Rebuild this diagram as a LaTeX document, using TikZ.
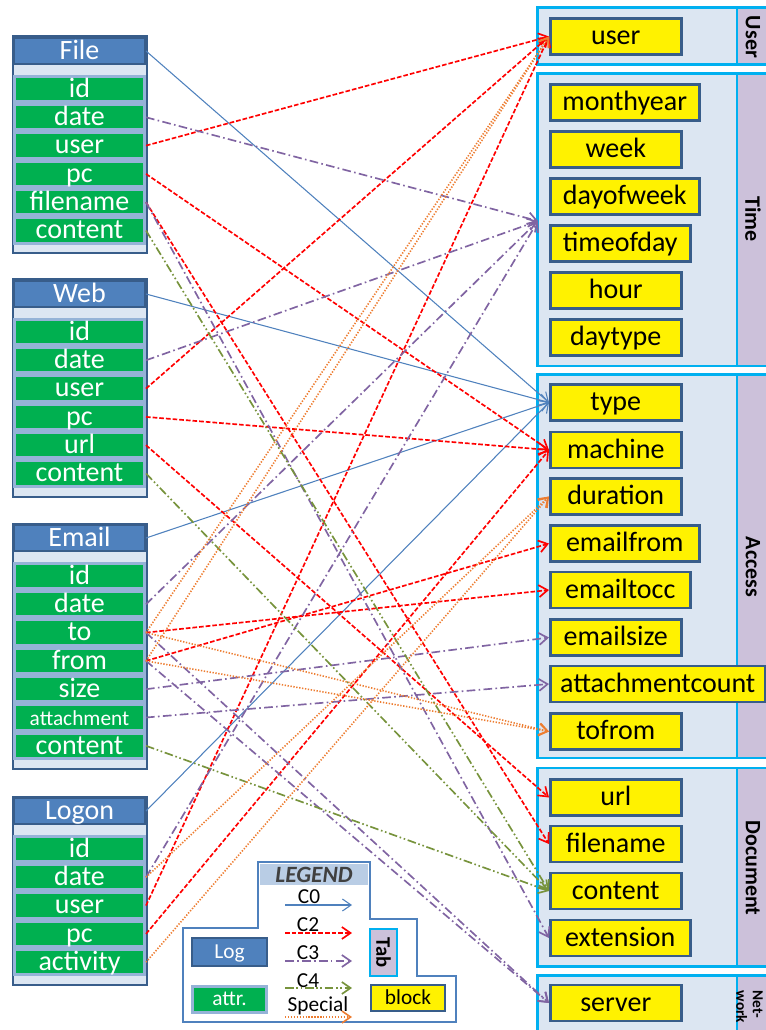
\documentclass[tikz,border=0pt]{standalone}
\usepackage{fontspec}
\setmainfont{Carlito}
\usetikzlibrary{arrows.meta}

\definecolor{logblue}{RGB}{79,129,189}
\definecolor{logedge}{RGB}{56,93,138}
\definecolor{attrgreen}{RGB}{0,176,80}
\definecolor{attredge}{RGB}{149,179,215}
\definecolor{paleblue}{RGB}{220,230,242}
\definecolor{tabcyan}{RGB}{0,176,240}
\definecolor{tablilac}{RGB}{204,193,218}
\definecolor{cpurple}{RGB}{128,100,162}
\definecolor{cgreen}{RGB}{119,147,60}
\definecolor{corange}{RGB}{237,125,49}
\definecolor{legendhead}{RGB}{185,205,229}
\definecolor{legendtext}{RGB}{64,64,64}

\tikzset{
  bigtext/.style={font=\fontsize{21}{23}\selectfont, text height=14.5pt, text depth=2pt},
  keytext/.style={font=\fontsize{16}{18}\selectfont, text height=11pt, text depth=1.5pt},
  tableframe/.style={draw=logedge, line width=1.5pt, fill=paleblue},
  loghead/.style={draw=logedge, line width=1.5pt, fill=logblue, text=white, inner sep=0pt, bigtext, minimum width=98.25pt, minimum height=19.5pt},
  attrbox/.style={draw=attredge, line width=2.25pt, fill=attrgreen, text=white, inner sep=0pt, bigtext, minimum width=97.5pt, minimum height=19pt},
  panelbox/.style={draw=tabcyan, line width=2pt, fill=paleblue},
  tabstrip/.style={draw=tabcyan, line width=2pt, fill=tablilac},
  tablabel/.style={rotate=-90, inner sep=0pt, font=\bfseries\fontsize{16.5}{18}\selectfont},
  blockbox/.style={draw=logedge, line width=1.9pt, fill=yellow, inner sep=0pt, bigtext, minimum width=98.25pt, minimum height=27pt, anchor=west},
  barbtip/.style={-{Straight Barb[length=6.5pt,width=9pt]}},
  c0/.style={draw=logblue, line width=0.8pt, barbtip},
  c2/.style={draw=red, line width=1.25pt, dash pattern=on 3.5pt off 1.5pt, barbtip},
  c3/.style={draw=cpurple, line width=1.25pt, dash pattern=on 6.5pt off 2.5pt on 1.2pt off 2.5pt, barbtip},
  c4/.style={draw=cgreen, line width=1.25pt, dash pattern=on 6.5pt off 2pt on 1.2pt off 2pt on 1.2pt off 2pt, barbtip},
  cspec/.style={draw=corange, line width=1.2pt, dash pattern=on 1pt off 1.2pt, barbtip},
}

\begin{document}
\begin{tikzpicture}[x=0.75pt,y=0.75pt,yscale=-1,xscale=1]
	\useasboundingbox (0,0) rectangle (766,1030);
	\clip (0,0) rectangle (766,1030);

	% log tables
	\draw[tableframe] (12.5,36.5) rectangle (146.5,253.5);
	\node[loghead] (fhead) at (79.5,51) {File};
	\node[attrbox] (fid) at (79.5,89) {id};
	\node[attrbox] (fdate) at (79.5,117.3) {date};
	\node[attrbox] (fuser) at (79.5,145.6) {user};
	\node[attrbox] (fpc) at (79.5,173.9) {pc};
	\node[attrbox] (ffilename) at (79.5,202.2) {filename};
	\node[attrbox] (fcontent) at (79.5,230.5) {content};

	\draw[tableframe] (12.5,279.5) rectangle (146.5,496.5);
	\node[loghead] (whead) at (79.5,294) {Web};
	\node[attrbox] (wid) at (79.5,332) {id};
	\node[attrbox] (wdate) at (79.5,360.3) {date};
	\node[attrbox] (wuser) at (79.5,388.6) {user};
	\node[attrbox] (wpc) at (79.5,416.9) {pc};
	\node[attrbox] (wurl) at (79.5,445.2) {url};
	\node[attrbox] (wcontent) at (79.5,473.5) {content};

	\draw[tableframe] (12.5,523.5) rectangle (146.5,768.8);
	\node[loghead] (ehead) at (79.5,538) {Email};
	\node[attrbox] (eid) at (79.5,576) {id};
	\node[attrbox] (edate) at (79.5,604.3) {date};
	\node[attrbox] (eto) at (79.5,632.6) {to};
	\node[attrbox] (efrom) at (79.5,660.9) {from};
	\node[attrbox] (esize) at (79.5,689.2) {size};
	\node[attrbox, font=\fontsize{16}{18}\selectfont] (eattach) at (79.5,717.5) {attachment};
	\node[attrbox] (econtent) at (79.5,745.8) {content};

	\draw[tableframe] (12.5,796.5) rectangle (146.5,985.2);
	\node[loghead] (lhead) at (79.5,811) {Logon};
	\node[attrbox] (lid) at (79.5,849) {id};
	\node[attrbox] (ldate) at (79.5,877.3) {date};
	\node[attrbox] (luser) at (79.5,905.6) {user};
	\node[attrbox] (lpc) at (79.5,933.9) {pc};
	\node[attrbox] (lactivity) at (79.5,962.2) {activity};

	% dimension tabs
	\draw[panelbox] (537.5,7.5) rectangle (790,64.5);
	\draw[tabstrip] (737,7.5) rectangle (790,64.5);
	\node[tablabel] (tuser) at (753,37) {User};
	\draw[panelbox] (537.5,73.5) rectangle (790,366);
	\draw[tabstrip] (737,73.5) rectangle (790,366);
	\node[tablabel] (ttime) at (753,219) {Time};
	\draw[panelbox] (537.5,374.5) rectangle (790,758);
	\draw[tabstrip] (737,374.5) rectangle (790,758);
	\node[tablabel] (taccess) at (753,567) {Access};
	\draw[panelbox] (537.5,768) rectangle (790,966.5);
	\draw[tabstrip] (737,768) rectangle (790,966.5);
	\node[tablabel] (tdocument) at (753,868) {Document};
	\draw[panelbox] (537.5,975.5) rectangle (790,1060);
	\draw[tabstrip] (737,975.5) rectangle (790,1060);
	\node[tablabel, font=\bfseries\fontsize{11.5}{12.5}\selectfont, align=left] (tnetwork) at (749.5,1007) {Net-\\work};
	\coordinate (timein) at (538,221);

	% blocks
	\node[blockbox] (user) at (549,36.5) {user};
	\node[blockbox, minimum width=111.75pt] (monthyear) at (549,102.5) {monthyear};
	\node[blockbox] (week) at (549,149.5) {week};
	\node[blockbox, minimum width=111.75pt] (dayofweek) at (549,196.5) {dayofweek};
	\node[blockbox, minimum width=105pt] (timeofday) at (549,243.5) {timeofday};
	\node[blockbox] (hour) at (549,290.5) {hour};
	\node[blockbox] (daytype) at (549,337.5) {daytype};
	\node[blockbox] (type) at (549,402.5) {type};
	\node[blockbox] (machine) at (549,450) {machine};
	\node[blockbox] (duration) at (549,496.5) {duration};
	\node[blockbox, minimum width=111.75pt] (emailfrom) at (549,543.5) {emailfrom};
	\node[blockbox, minimum width=105pt] (emailtocc) at (549,590) {emailtocc};
	\node[blockbox] (emailsize) at (549,637.5) {emailsize};
	\node[blockbox, minimum width=161.25pt] (attachcount) at (549,684) {attachmentcount};
	\node[blockbox] (tofrom) at (549,731.5) {tofrom};
	\node[blockbox] (durl) at (549,797.5) {url};
	\node[blockbox] (dfilename) at (549,844) {filename};
	\node[blockbox] (dcontent) at (549,891) {content};
	\node[blockbox, minimum width=105pt] (extension) at (549,938) {extension};
	\node[blockbox] (server) at (549,1003) {server};

	% C0
	\draw[c0] (fhead.east) -- (type.west);
	\draw[c0] (whead.east) -- (type.west);
	\draw[c0] (ehead.east) -- (type.west);
	\draw[c0] (lhead.east) -- (type.west);
	% C2
	\draw[c2] (fuser.east) -- (user.west);
	\draw[c2] (wuser.east) -- (user.west);
	\draw[c2] (luser.east) -- (user.west);
	\draw[c2] (fpc.east) -- (machine.west);
	\draw[c2] (wpc.east) -- (machine.west);
	\draw[c2] (lpc.east) -- (machine.west);
	\draw[c2] (efrom.east) -- (emailfrom.west);
	\draw[c2] (eto.east) -- (emailtocc.west);
	\draw[c2] (wurl.east) -- (durl.west);
	\draw[c2] (ffilename.east) -- (dfilename.west);
	% C3
	\draw[c3] (fdate.east) -- (timein);
	\draw[c3] (wdate.east) -- (timein);
	\draw[c3] (edate.east) -- (timein);
	\draw[c3] (ldate.east) -- (timein);
	\draw[c3] (esize.east) -- (emailsize.west);
	\draw[c3] (eattach.east) -- (attachcount.west);
	\draw[c3] (ffilename.east) -- (extension.west);
	\draw[c3] (eto.east) -- (server.west);
	\draw[c3] (efrom.east) -- (server.west);
	% C4
	\draw[c4] (fcontent.east) -- (dcontent.west);
	\draw[c4] (wcontent.east) -- (dcontent.west);
	\draw[c4] (econtent.east) -- (dcontent.west);
	% special
	\draw[cspec] (eto.east) -- (user.west);
	\draw[cspec] (efrom.east) -- (user.west);
	\draw[cspec] (ldate.east) -- (duration.west);
	\draw[cspec] (lactivity.east) -- (duration.west);
	\draw[cspec] (eto.east) -- (tofrom.west);
	\draw[cspec] (efrom.east) -- (tofrom.west);

	% legend
	\draw[draw=logblue, line width=1.2pt, fill=white] (258,862) -- (370,862) -- (370,919) -- (417,919) -- (417,976) -- (456,976) -- (456,1022) -- (183,1022) -- (183,928) -- (258,928) -- cycle;
	\node[fill=legendhead, minimum width=81pt, minimum height=16pt, inner sep=0pt, text=legendtext, font=\bfseries\itshape\fontsize{17.5}{19}\selectfont] (legend) at (314,874.5) {LEGEND};
	\coordinate (k0a) at (285,905); \coordinate (k0b) at (352,905);
	\coordinate (k2a) at (285,933); \coordinate (k2b) at (352,933);
	\coordinate (k3a) at (285,961); \coordinate (k3b) at (352,961);
	\coordinate (k4a) at (285,988); \coordinate (k4b) at (352,988);
	\coordinate (ksa) at (285,1017); \coordinate (ksb) at (352,1017);
	\draw[c0] (k0a) -- (k0b);
	\draw[c2] (k2a) -- (k2b);
	\draw[c3] (k3a) -- (k3b);
	\draw[c4] (k4a) -- (k4b);
	\draw[cspec] (ksa) -- (ksb);
	\node[anchor=base, inner sep=0pt, font=\fontsize{16}{18}\selectfont] (lc0) at (309,903) {C0};
	\node[anchor=base, inner sep=0pt, font=\fontsize{16}{18}\selectfont] (lc2) at (308,931) {C2};
	\node[anchor=base, inner sep=0pt, font=\fontsize{16}{18}\selectfont] (lc3) at (308,959) {C3};
	\node[anchor=base, inner sep=0pt, font=\fontsize{16}{18}\selectfont] (lc4) at (308,987) {C4};
	\node[anchor=base, inner sep=0pt, font=\fontsize{16}{18}\selectfont] (lspec) at (318,1011) {Special};
	\node[loghead, keytext, minimum width=56.25pt, minimum height=21pt] (keylog) at (229.5,952) {Log};
	\node[attrbox, keytext, minimum width=55.5pt, minimum height=19.5pt] (keyattr) at (229.5,999.5) {attr.};
	\node[rotate=-90, draw=tabcyan, line width=1.5pt, fill=tablilac, inner sep=0pt, minimum width=35.25pt, minimum height=20.25pt, font=\bfseries\fontsize{15.5}{17}\selectfont] (keytab) at (383.5,952.5) {Tab};
	\node[blockbox, keytext, anchor=center, minimum width=55.5pt, minimum height=19.5pt] (keyblock) at (408,998) {block};
\end{tikzpicture}
\end{document}
